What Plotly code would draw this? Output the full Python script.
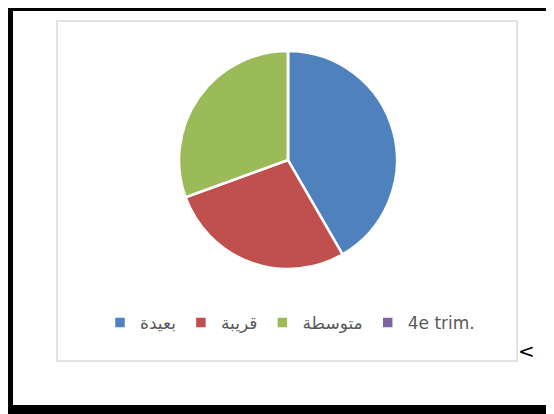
import plotly.graph_objects as go

# données du graphique
labels = ['بعيدة', 'قريبة', 'متوسطة', '4e trim.']
values = [15, 10, 11, 0]
colors = ['#4f81bd', '#c0504d', '#9bbb59', '#8064a2']

# la page html a une marge de 8 px : on réduit la figure et on décale
OFF = 8
W, H = 554 - OFF, 414 - OFF


def fx(x):
    return (x - OFF) / W


def fy(y):
    return 1 - (y - OFF) / H


fig = go.Figure()
fig.add_trace(go.Pie(
    labels=labels,
    values=values,
    sort=False,
    direction='clockwise',
    rotation=0,
    textinfo='none',
    hoverinfo='label+value',
    marker=dict(colors=colors, line=dict(color='white', width=2.5)),
    domain=dict(x=[fx(179), fx(397)], y=[fy(269), fy(51)]),
))

shapes = [
    # cadre du graphique
    dict(type='rect', xref='paper', yref='paper',
         x0=fx(57), x1=fx(517), y0=fy(361), y1=fy(21),
         line=dict(color='#d9d9d9', width=1.5), fillcolor='rgba(0,0,0,0)'),
    # bordure noire
    dict(type='rect', xref='paper', yref='paper',
         x0=fx(0), x1=fx(554), y0=fy(11), y1=fy(4),
         line=dict(width=0), fillcolor='black'),
    dict(type='rect', xref='paper', yref='paper',
         x0=fx(0), x1=fx(13), y0=fy(414), y1=fy(4),
         line=dict(width=0), fillcolor='black'),
    dict(type='rect', xref='paper', yref='paper',
         x0=fx(0), x1=fx(554), y0=fy(414), y1=fy(405),
         line=dict(width=0), fillcolor='black'),
    dict(type='line', xref='paper', yref='paper',
         x0=fx(553), x1=fx(553), y0=fy(405), y1=fy(11),
         line=dict(color='#d0d0d0', width=1)),
]

fig.update_layout(
    width=W, height=H,
    margin=dict(l=0, r=0, t=0, b=0),
    paper_bgcolor='white',
    plot_bgcolor='white',
    shapes=shapes,
    showlegend=True,
    legend=dict(
        orientation='h',
        x=fx(290), xanchor='center',
        y=fy(323), yanchor='middle',
        font=dict(family='DejaVu Sans', size=17, color='#595959'),
        itemwidth=30,
        traceorder='normal',
    ),
    annotations=[dict(
        text='<', xref='paper', yref='paper',
        x=fx(526), y=fy(351), xanchor='center', yanchor='middle',
        showarrow=False, font=dict(family='DejaVu Sans', size=20, color='black'),
    )],
)

fig.write_html('out.html')
